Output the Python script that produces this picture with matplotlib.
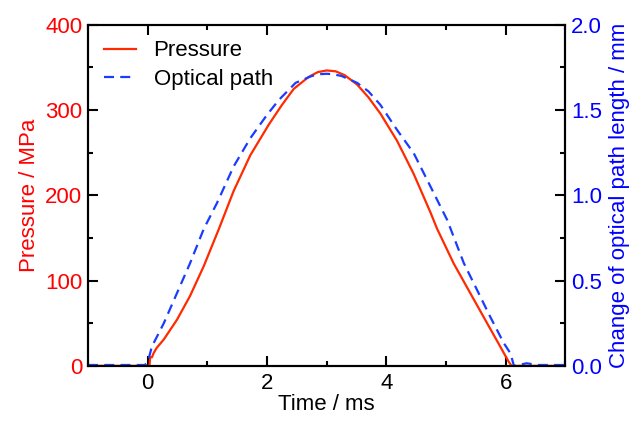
import matplotlib
matplotlib.use("Agg")
import matplotlib.pyplot as plt
from matplotlib.ticker import MultipleLocator, FormatStrFormatter

plt.rcParams['font.family'] = ['Liberation Sans', 'DejaVu Sans']

# Pressure (MPa) vs time (ms)
t_p = [-1.0, -0.5, 0.0, 0.03, 0.04, 0.07, 0.10, 0.15, 0.27, 0.49, 0.71, 0.94, 1.19, 1.44,
       1.72, 2.03, 2.25, 2.45, 2.70, 2.85, 3.00, 3.15, 3.30, 3.51, 3.70, 3.90, 4.18, 4.46, 4.74,
       4.85, 5.13, 5.41, 5.69, 5.91, 6.05, 6.10, 6.40, 7.0]
p = [0, 0, 0, 0, 10, 10, 15, 21, 31, 54, 82, 117, 160, 205,
     247, 283, 306, 325, 339, 344.5, 346.5, 345.5, 341, 330, 315, 296, 264, 225, 180,
     161, 120, 85, 50, 22.6, 5, 0, 0, 0]

# Optical path change (mm) vs time (ms)
t_o = [-1.0, -0.5, -0.05, 0.0, 0.07, 0.27, 0.49, 0.71, 0.94, 1.16, 1.44, 1.72, 2.00,
       2.20, 2.48, 2.75, 2.90, 3.00, 3.10, 3.25, 3.51, 3.70, 3.90, 4.18, 4.46, 4.74, 5.02,
       5.30, 5.52, 5.74, 5.97, 6.08, 6.14, 6.22, 6.35, 6.55, 6.8, 7.0]
o = [0.005, 0.005, 0.005, 0.02, 0.113, 0.25, 0.426, 0.602, 0.803, 0.954, 1.169, 1.335, 1.472,
     1.56, 1.66, 1.70, 1.711, 1.713, 1.711, 1.70, 1.66, 1.61, 1.531, 1.384, 1.247, 1.052, 0.856,
     0.602, 0.446, 0.289, 0.133, 0.074, 0.0, 0.005, 0.015, 0.005, 0.005, 0.005]

red_line = '#ff2a00'
blue_line = '#1a3cff'
red_text = '#ff0000'
blue_text = '#0000ff'

FS = 16

fig = plt.figure(figsize=(6.38, 4.21), dpi=100)
ax = fig.add_axes([0.138, 0.131, 0.748, 0.810])
ax2 = ax.twinx()

l1, = ax.plot(t_p, p, color=red_line, lw=1.6, label='Pressure', zorder=3)
l2, = ax2.plot(t_o, o, color=blue_line, lw=1.6, ls=(0, (4.5, 2.8)), label='Optical path')

ax.set_xlim(-1, 7)
ax.set_ylim(0, 400)
ax2.set_ylim(0, 2.0)

ax.xaxis.set_major_locator(MultipleLocator(2))
ax.xaxis.set_minor_locator(MultipleLocator(1))
ax.yaxis.set_major_locator(MultipleLocator(100))
ax.yaxis.set_minor_locator(MultipleLocator(50))
ax2.yaxis.set_major_locator(MultipleLocator(0.5))
ax2.yaxis.set_minor_locator(MultipleLocator(0.25))
ax2.yaxis.set_major_formatter(FormatStrFormatter('%.1f'))

ax.tick_params(axis='x', which='both', direction='in', top=True, labelsize=FS, pad=5, width=1.5)
ax.tick_params(axis='x', which='major', length=7)
ax.tick_params(axis='x', which='minor', length=3.5)
ax.tick_params(axis='y', which='both', direction='in', labelsize=FS, labelcolor=red_text, width=1.5, pad=4)
ax.tick_params(axis='y', which='major', length=7)
ax.tick_params(axis='y', which='minor', length=3.5)
ax2.tick_params(axis='y', which='both', direction='in', labelsize=FS, labelcolor=blue_text, width=1.5, pad=4)
ax2.tick_params(axis='y', which='major', length=7)
ax2.tick_params(axis='y', which='minor', length=3.5)

for a in (ax, ax2):
    for s in a.spines.values():
        s.set_linewidth(1.5)

ax.set_xlabel('Time / ms', fontsize=FS, labelpad=0)
ax.set_ylabel('Pressure / MPa', fontsize=FS, color=red_text, labelpad=4)
ax2.set_ylabel('Change of optical path length / mm', fontsize=FS, color=blue_text, labelpad=5)

ax.legend([l1, l2], ['Pressure', 'Optical path'], loc='upper left', frameon=False,
          fontsize=FS, handlelength=1.45, handletextpad=0.8, borderaxespad=0.3,
          labelspacing=0.35)

fig.savefig('out.png', dpi=100)
